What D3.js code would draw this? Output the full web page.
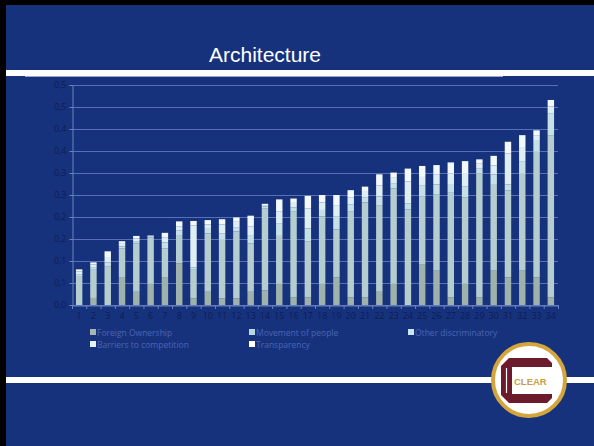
<!DOCTYPE html>
<html><head><meta charset="utf-8">
<script src="https://cdn.jsdelivr.net/npm/d3@7"></script>
<style>html,body{margin:0;padding:0;background:#000;}svg{display:block;}</style>
</head><body>
<script>
const categories = d3.range(1, 35).map(String);
const seriesNames = ["Foreign Ownership","Movement of people","Other discriminatory","Barriers to competition","Transparency"];
const seriesColors = ["#9fb1ab","#b5cdcf","#c6e0e6","#deeef3","#f3f9fb"];
const legendColors = ["#a6b6b2","#b9d8e0","#c9e6ee","#e5f2f6","#ffffff"];
const foreignOwnership = [0,0.016,0,0.062,0.030,0.048,0.062,0.095,0.015,0.030,0.015,0.015,0.030,0.033,0.048,0.017,0.017,0.048,0.063,0.017,0.017,0.030,0.048,0,0.093,0.078,0.017,0.048,0.017,0.078,0.063,0.078,0.063,0.017];
const movementOfPeople = [0.064,0.064,0.087,0.067,0.110,0.105,0.067,0.064,0.065,0.133,0.133,0.152,0.110,0.187,0.109,0.195,0.128,0.153,0.109,0.195,0.216,0.197,0.217,0.217,0.153,0.174,0.238,0.197,0.282,0.197,0.197,0.220,0.285,0.369];
const otherDiscriminatory = [0.006,0.006,0.010,0.004,0.005,0.002,0.013,0.010,0.005,0.010,0.015,0.010,0.019,0.004,0.029,0.010,0.029,0.015,0.030,0.017,0.012,0.020,0.012,0.014,0.025,0.022,0.020,0.025,0.012,0.022,0.014,0.029,0.027,0.050];
const barriersToCompetition = [0.006,0.006,0.010,0.006,0.006,0.002,0.011,0.010,0.096,0.010,0.020,0.012,0.019,0.003,0.026,0.010,0.045,0.017,0.025,0.016,0.012,0.025,0.012,0.050,0.020,0.022,0.024,0.030,0.010,0.020,0.070,0.030,0.011,0.015];
const transparency = [0.005,0.005,0.015,0.006,0.006,0.001,0.011,0.011,0.010,0.010,0.012,0.010,0.025,0.003,0.028,0.010,0.029,0.017,0.023,0.016,0.012,0.025,0.012,0.029,0.025,0.022,0.025,0.027,0.010,0.022,0.027,0.029,0.011,0.015];
const yTickValues = [0,0.05,0.1,0.15,0.2,0.25,0.3,0.35,0.4,0.45,0.5];
const yTickLabels = ["0,0","0,1","0,1","0,2","0,2","0,3","0,3","0,4","0,4","0,5","0,5"];
const title = "Architecture";

const W = 594, H = 446;
const svg = d3.select("body").append("svg").attr("width", W).attr("height", H);
svg.append("rect").attr("x",0).attr("y",0).attr("width",W).attr("height",H).attr("fill","#000");
svg.append("rect").attr("x",6).attr("y",5).attr("width",W-6).attr("height",H-5).attr("fill","#17327d");

svg.append("text").attr("x",265).attr("y",62).attr("text-anchor","middle")
  .attr("font-family","Liberation Sans, Arial, sans-serif").attr("font-size",21).attr("fill","#fff").text(title);
svg.append("rect").attr("x",6).attr("y",70).attr("width",W-6).attr("height",6).attr("fill","#fff");
svg.append("line").attr("x1",25).attr("x2",503).attr("y1",76.5).attr("y2",76.5).attr("stroke","#9aa6c8").attr("stroke-width",1);

const x = d3.scaleBand().domain(categories).range([72,558]).paddingInner(0.55).paddingOuter(0.275);
const y = d3.scaleLinear().domain([0,0.5]).range([305,85]);

svg.append("g").selectAll("line").data(yTickValues).join("line")
  .attr("x1",72).attr("x2",558).attr("y1",d=>y(d)+0.5).attr("y2",d=>y(d)+0.5)
  .attr("stroke","#5770b6").attr("stroke-width",1);

const yAxis = d3.axisLeft(y).tickValues(yTickValues).tickFormat((d,i)=>yTickLabels[i]).tickSize(3);
const gy = svg.append("g").attr("transform","translate(72.5,0)").call(yAxis);
gy.select(".domain").attr("stroke","#6a82c0");
gy.selectAll(".tick line").attr("stroke","#6a82c0");
gy.selectAll("text").attr("font-family","Open Sans, sans-serif").attr("font-size",9).attr("fill","#0d1d52").attr("x",-6);

const keys = ["fo","mp","od","bc","tr"];
const rows = categories.map((c,i)=>({cat:c, fo:foreignOwnership[i], mp:movementOfPeople[i], od:otherDiscriminatory[i], bc:barriersToCompetition[i], tr:transparency[i]}));
const stack = d3.stack().keys(keys)(rows);
const color = d3.scaleOrdinal().domain(keys).range(seriesColors);
svg.append("g").selectAll("g").data(stack).join("g").attr("fill",d=>color(d.key))
  .selectAll("rect").data(d=>d).join("rect")
  .attr("x",d=>x(d.data.cat)).attr("width",x.bandwidth())
  .attr("y",d=>y(d[1])).attr("height",d=>Math.max(0,y(d[0])-y(d[1])));

const xAxis = d3.axisBottom(x).tickSize(0).tickPadding(7);
const gx = svg.append("g").attr("transform","translate(0,305.5)").call(xAxis);
gx.select(".domain").attr("stroke","#6a82c0");
gx.selectAll("text").attr("font-family","Open Sans, sans-serif").attr("font-size",9).attr("fill","#0d1d52");
svg.append("g").selectAll("line").data(categories.concat(["end"])).join("line")
  .attr("x1",(d,i)=>72+i*x.step()+0.5).attr("x2",(d,i)=>72+i*x.step()+0.5)
  .attr("y1",305).attr("y2",309).attr("stroke","#6a82c0");

const legendPos = [[90,334],[249,334],[408,334],[90,346],[249,346]];
const lg = svg.append("g").selectAll("g").data(seriesNames).join("g")
  .attr("transform",(d,i)=>`translate(${legendPos[i][0]},${legendPos[i][1]})`);
lg.append("rect").attr("x",0).attr("y",-5).attr("width",6).attr("height",6).attr("fill",(d,i)=>legendColors[i]);
lg.append("text").attr("x",7).attr("y",1.5).attr("font-family","Open Sans, sans-serif").attr("font-size",8.5)
  .attr("fill","#4a64b4").text(d=>d);

svg.append("rect").attr("x",6).attr("y",377).attr("width",W-6).attr("height",6).attr("fill","#fff");

const logo = svg.append("g").attr("transform","translate(529,380)");
logo.append("circle").attr("r",36).attr("fill","#fff").attr("stroke","#d4a53c").attr("stroke-width",4);
logo.append("path").attr("d","M -20,-22 L 18,-22 L 23,-17 L 23,-13 L -17,-13 L -17,14 L 23,14 L 23,18 L 18,23 L -20,23 L -28,15 L -28,-14 Z").attr("fill","#6b1b2c");
logo.append("line").attr("x1",-22.5).attr("x2",-22.5).attr("y1",-12).attr("y2",13).attr("stroke","#fff").attr("stroke-width",1.2);
logo.append("text").attr("x",-15).attr("y",5).attr("font-family","Liberation Sans, Arial, sans-serif").attr("font-weight","bold")
  .attr("font-size",9.5).attr("fill","#c9a040").text("CLEAR");
</script>
</body></html>
